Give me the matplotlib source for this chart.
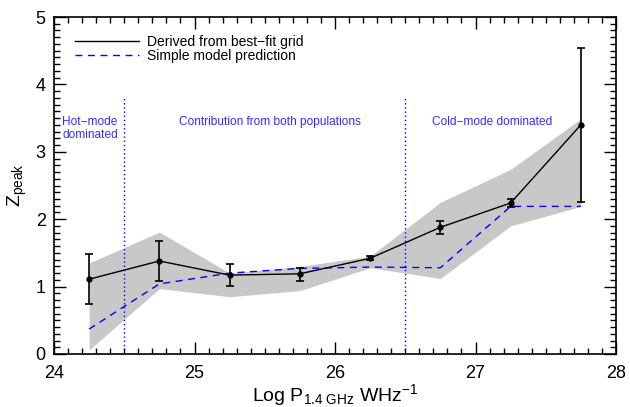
import matplotlib
matplotlib.use("Agg")
import matplotlib.pyplot as plt
from matplotlib.ticker import MultipleLocator
from matplotlib.lines import Line2D

plt.rcParams['font.family'] = ['Liberation Sans', 'DejaVu Sans']
plt.rcParams['mathtext.fontset'] = 'custom'
plt.rcParams['mathtext.rm'] = 'Liberation Sans'
plt.rcParams['mathtext.it'] = 'Liberation Sans'

logp = [24.25, 24.75, 25.25, 25.75, 26.25, 26.75, 27.25, 27.75]
zpeak = [1.11, 1.38, 1.17, 1.19, 1.42, 1.88, 2.24, 3.40]
err_hi = [0.37, 0.30, 0.16, 0.08, 0.03, 0.10, 0.06, 1.14]
err_lo = [0.37, 0.29, 0.16, 0.10, 0.03, 0.10, 0.06, 1.14]
model = [0.37, 1.04, 1.20, 1.27, 1.29, 1.28, 2.19, 2.19]
band_hi = [1.35, 1.81, 1.20, 1.30, 1.45, 2.25, 2.74, 3.49]
band_lo = [0.06, 0.97, 0.85, 0.94, 1.28, 1.12, 1.90, 2.19]
dividers = [24.5, 26.5]

fig = plt.figure(figsize=(6.3, 4.07), dpi=100)
ax = fig.add_axes([54/630, 1-354/407, (616-54)/630, (354-17)/407])

ax.fill_between(logp, band_lo, band_hi, color='#c8c8c8', linewidth=0, zorder=1)
ax.plot(logp, model, color='blue', ls=(0, (5, 4)), lw=1.0, zorder=2)
ax.errorbar(logp, zpeak, yerr=[err_lo, err_hi], color='black', lw=1.0,
            marker='o', ms=3.5, capsize=3, elinewidth=1.2, capthick=1.2,
            zorder=3)

for d in dividers:
    ax.plot([d, d], [0, 3.8], color='blue', ls=(0, (1, 2)), lw=1.0, zorder=2)

tc = '#3030ff'
ax.text(24.057, 3.34, 'Hot\u2212mode\ndominated', color=tc, fontsize=8.6,
        ha='left', va='center', linespacing=1.1)
ax.text(25.54, 3.44, 'Contribution from both populations', color=tc,
        fontsize=8.6, ha='center', va='center')
ax.text(27.12, 3.44, 'Cold\u2212mode dominated', color=tc, fontsize=8.6,
        ha='center', va='center')

hs = [Line2D([], [], color='black', lw=1.0),
      Line2D([], [], color='blue', ls=(0, (5, 4)), lw=1.0)]
ax.legend(hs, ['Derived from best\u2212fit grid', 'Simple model prediction'],
          loc='upper left', bbox_to_anchor=(0.02, 0.975), frameon=False,
          fontsize=10, handlelength=4.6, handletextpad=0.6,
          labelspacing=-0.02, borderaxespad=0.3)

ax.set_xlim(24, 28)
ax.set_ylim(0, 5)
ax.xaxis.set_major_locator(MultipleLocator(1))
ax.xaxis.set_minor_locator(MultipleLocator(0.1))
ax.yaxis.set_major_locator(MultipleLocator(1))
ax.yaxis.set_minor_locator(MultipleLocator(0.1))
ax.tick_params(which='both', direction='in', top=True, right=True,
               labelsize=13, width=1.0)
ax.tick_params(which='major', length=8.5)
ax.tick_params(which='minor', length=4.3)
ax.tick_params(axis='x', which='major', pad=8)
ax.tick_params(axis='y', which='major', pad=6)
for s in ax.spines.values():
    s.set_linewidth(1.2)

ax.set_xlabel(r'Log P$_{\mathregular{1.4\ GHz}}$ WHz$^{\mathregular{-1}}$',
              fontsize=14, labelpad=0)
ax.set_ylabel(r'Z$_{\mathregular{peak}}$', fontsize=14, labelpad=5)

fig.savefig('out.png', dpi=100)
